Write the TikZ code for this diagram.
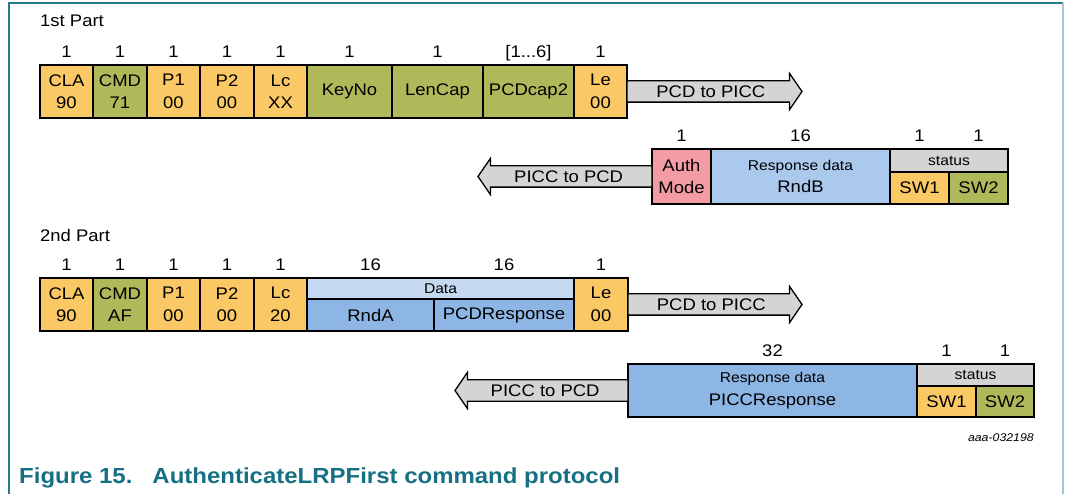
\documentclass[tikz,border=0pt]{standalone}
\usepackage{xcolor}
\usepackage{fontspec}
\setmainfont{Liberation Sans}[FakeStretch=1.1]
\usepackage{tikz}
\usetikzlibrary{positioning, shapes.arrows}
\definecolor{apduorange}{RGB}{250,200,100}
\definecolor{apduolive}{RGB}{176,185,90}
\definecolor{apdupink}{RGB}{244,156,166}
\definecolor{apdublue}{RGB}{170,201,236}
\definecolor{apdudeep}{RGB}{142,182,228}
\definecolor{apdupale}{RGB}{197,217,241}
\definecolor{apdugray}{RGB}{212,212,212}
\definecolor{framedark}{RGB}{40,122,140}
\definecolor{framelight}{RGB}{160,200,214}
\definecolor{captionteal}{RGB}{22,112,132}
\newcommand{\cellsize}{\fontsize{16.8}{22.5}\selectfont}
\newcommand{\smallsize}{\fontsize{14.2}{16}\selectfont}
\tikzset{ 
field/.style = { rectangle, draw = black, line width = 1.3pt, inner sep = 0pt, outer sep = 0pt, minimum height = 53pt, align = center, font = \cellsize },
head field/.style = { field, font = \smallsize, fill = apdugray },
size label/.style = { anchor = south, inner sep = 0pt, text height = 12pt, text depth = 0pt, font = \cellsize },
part label/.style = { anchor = west, inner sep = 0pt, font = \cellsize },
dir arrow/.style = { single arrow, draw = black, fill = apdugray, line width = 1.3pt, inner xsep = 0pt, inner ysep = 4pt, outer sep = 0pt, text height = 12pt, text depth = 0pt, single arrow head extend = 7.5pt, single arrow tip angle = 111, font = \cellsize, anchor = tail },
}

\begin{document}
\begin{tikzpicture}[x = 1pt, y = -1pt]
    \useasboundingbox (0, 0) rectangle (1066, 494);
    \draw[framedark, line width = 1.5pt] (9, 494) -- (9, 3) -- (1063, 3);
    \draw[framelight, line width = 1.5pt] (1063, 3) -- (1063, 494);
    % 1st part, command
    \node[part label] (partone) at (40, 21) {1st Part};
    \node[field, fill = apduorange, minimum width = 53pt, anchor = north west] (cla1) at (40, 65) {CLA\\90};
    \node[field, fill = apduolive, minimum width = 54pt, right = 0pt of cla1] (cmd1) {CMD\\71};
    \node[field, fill = apduorange, minimum width = 53pt, right = 0pt of cmd1] (pone1) {P1\\00};
    \node[field, fill = apduorange, minimum width = 54pt, right = 0pt of pone1] (ptwo1) {P2\\00};
    \node[field, fill = apduorange, minimum width = 53pt, right = 0pt of ptwo1] (lc1) {Lc\\XX};
    \node[field, fill = apduolive, minimum width = 85pt, right = 0pt of lc1] (keyno) {KeyNo};
    \node[field, fill = apduolive, minimum width = 91pt, right = 0pt of keyno] (lencap) {LenCap};
    \node[field, fill = apduolive, minimum width = 91pt, right = 0pt of lencap] (pcdcap) {PCDcap2};
    \node[field, fill = apduorange, minimum width = 53pt, right = 0pt of pcdcap] (le1) {Le\\00};
    \node[size label] at ([yshift = 7pt]cla1.north) {1};
    \node[size label] at ([yshift = 7pt]cmd1.north) {1};
    \node[size label] at ([yshift = 7pt]pone1.north) {1};
    \node[size label] at ([yshift = 7pt]ptwo1.north) {1};
    \node[size label] at ([yshift = 7pt]lc1.north) {1};
    \node[size label] at ([yshift = 7pt]keyno.north) {1};
    \node[size label] at ([yshift = 7pt]lencap.north) {1};
    \node[size label] at ([yshift = 7pt]pcdcap.north) {[1...6]};
    \node[size label] at ([yshift = 7pt]le1.north) {1};
    \node[dir arrow, minimum height = 175pt] (req1) at (le1.east) {PCD to PICC};
    % 1st part, response
    \node[field, fill = apdupink, minimum width = 59pt, minimum height = 55pt, anchor = north west] (auth) at (652, 149) {Auth\\Mode};
    \node[field, fill = apdublue, minimum width = 179pt, minimum height = 55pt, right = 0pt of auth] (rndb) {{\smallsize Response data}\\RndB};
    \node[head field, minimum width = 118pt, minimum height = 23pt, anchor = north west] (stat1) at (rndb.north east) {status};
    \node[field, fill = apduorange, minimum width = 59pt, minimum height = 32pt, anchor = north west] (swone1) at (stat1.south west) {SW1};
    \node[field, fill = apduolive, minimum width = 59pt, minimum height = 32pt, right = 0pt of swone1] (swtwo1) {SW2};
    \node[size label] at ([yshift = 7pt]auth.north) {1};
    \node[size label] at ([yshift = 7pt]rndb.north) {16};
    \node[size label] at ([yshift = 7pt]swone1 |- stat1.north) {1};
    \node[size label] at ([yshift = 7pt]swtwo1 |- stat1.north) {1};
    \node[dir arrow, shape border rotate = 180, minimum height = 174pt] (rsp1) at (auth.west) {PICC to PCD};
    % 2nd part, command
    \node[part label] (parttwo) at (40, 235) {2nd Part};
    \node[field, fill = apduorange, minimum width = 53pt, anchor = north west] (cla2) at (40, 278) {CLA\\90};
    \node[field, fill = apduolive, minimum width = 54pt, right = 0pt of cla2] (cmd2) {CMD\\AF};
    \node[field, fill = apduorange, minimum width = 53pt, right = 0pt of cmd2] (pone2) {P1\\00};
    \node[field, fill = apduorange, minimum width = 54pt, right = 0pt of pone2] (ptwo2) {P2\\00};
    \node[field, fill = apduorange, minimum width = 53pt, right = 0pt of ptwo2] (lc2) {Lc\\20};
    \node[head field, fill = apdupale, minimum width = 267pt, minimum height = 21pt, anchor = north west] (data) at (lc2.north east) {Data};
    \node[field, fill = apdudeep, minimum width = 127pt, minimum height = 32pt, anchor = north west] (rnda) at (data.south west) {RndA};
    \node[field, fill = apdudeep, minimum width = 140pt, minimum height = 32pt, right = 0pt of rnda] (pcdresp) {PCDResponse};
    \node[field, fill = apduorange, minimum width = 54pt, anchor = north west] (le2) at (data.north east) {Le\\00};
    \node[size label] at ([yshift = 7pt]cla2.north) {1};
    \node[size label] at ([yshift = 7pt]cmd2.north) {1};
    \node[size label] at ([yshift = 7pt]pone2.north) {1};
    \node[size label] at ([yshift = 7pt]ptwo2.north) {1};
    \node[size label] at ([yshift = 7pt]lc2.north) {1};
    \node[size label] at ([yshift = 7pt]rnda |- data.north) {16};
    \node[size label] at ([yshift = 7pt]pcdresp |- data.north) {16};
    \node[size label] at ([yshift = 7pt]le2.north) {1};
    \node[dir arrow, minimum height = 174pt] (req2) at (le2.east) {PCD to PICC};
    % 2nd part, response
    \node[field, fill = apdudeep, minimum width = 289pt, anchor = north west] (piccresp) at (628, 364) {{\smallsize Response data}\\PICCResponse};
    \node[head field, minimum width = 117pt, minimum height = 22pt, anchor = north west] (stat2) at (piccresp.north east) {status};
    \node[field, fill = apduorange, minimum width = 59pt, minimum height = 31pt, anchor = north west] (swone2) at (stat2.south west) {SW1};
    \node[field, fill = apduolive, minimum width = 58pt, minimum height = 31pt, right = 0pt of swone2] (swtwo2) {SW2};
    \node[size label] at ([yshift = 7pt]piccresp.north) {32};
    \node[size label] at ([yshift = 7pt]swone2 |- stat2.north) {1};
    \node[size label] at ([yshift = 7pt]swtwo2 |- stat2.north) {1};
    \node[dir arrow, shape border rotate = 180, minimum height = 173pt] (rsp2) at (piccresp.west) {PICC to PCD};
    \node[anchor = east, inner sep = 0pt, font = \fontsize{11.2}{13}\selectfont\itshape] (figid) at (1034, 438) {aaa-032198};
    \node[anchor = west, inner sep = 0pt, text = captionteal, font = \fontsize{21.8}{25}\selectfont\bfseries] (caption) at (19, 478) {Figure 15.\hspace{20pt}AuthenticateLRPFirst command protocol};
\end{tikzpicture}
\end{document}
